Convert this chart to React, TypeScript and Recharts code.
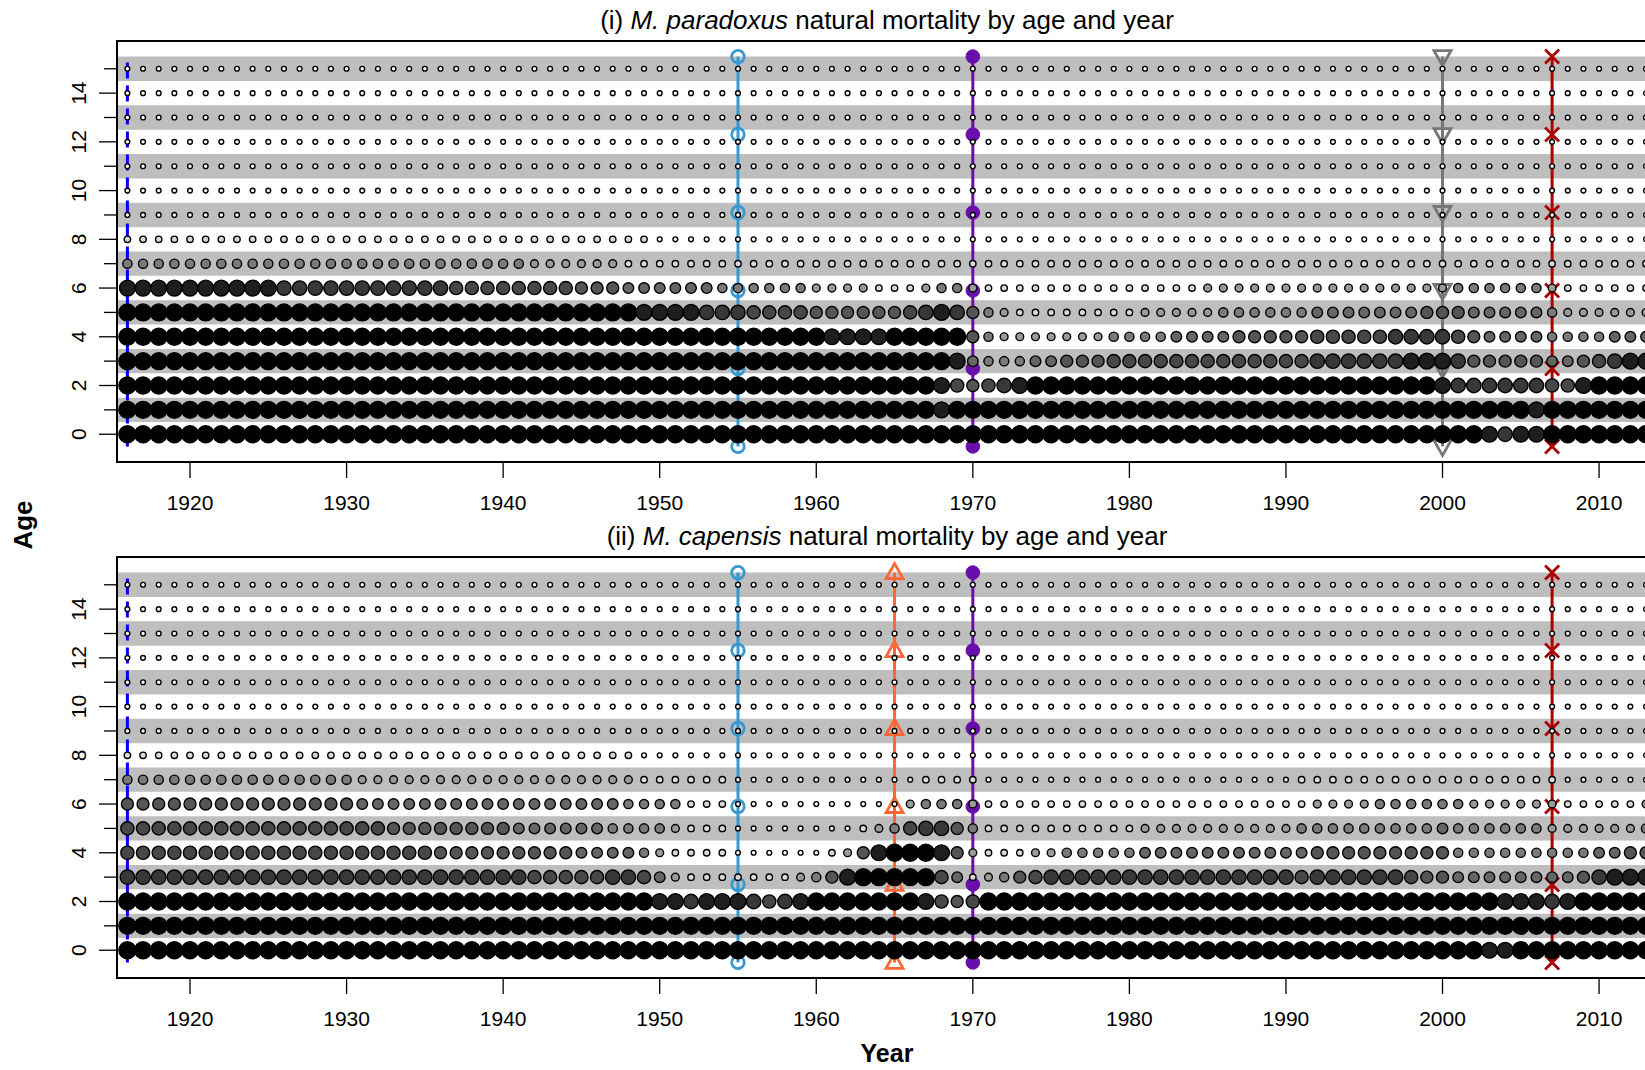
import React from 'react';
import { ScatterChart, Scatter, XAxis, YAxis, ReferenceArea } from 'recharts';

const FONT = '"Liberation Sans", Arial, Helvetica, sans-serif';

// columns start in 1916, one per year
const FIRST_YEAR = 1916;
const YEAR_TICKS = [1920, 1930, 1940, 1950, 1960, 1970, 1980, 1990, 2000, 2010];
const AGE_TICKS = [0, 1, 2, 3, 4, 5, 6, 7, 8, 9, 10, 11, 12, 13, 14, 15];
const BAND_AGES = [1, 3, 5, 7, 9, 11, 13, 15];
const MARK_AGES = [-0.5, 2.7, 5.9, 9.1, 12.3, 15.5];

// mortality level per year (0 = lowest .. 9 = highest), grouped 1916-19, 1920s ... 2010-13
const TINY = '0000 0000000000 0000000000 0000000000 0000000000 0000000000 0000000000 0000000000 0000000000 0000000000 0000';

const paradoxusRows = [
  '9999 9999999999 9999999999 9999999999 9999999999 9999999999 9999999999 9999999999 9999999999 9998788999 9999',
  '9999 9999999999 9999999999 9999999999 9999999999 9999999989 9999999999 9999999999 9999999999 9999998999 9999',
  '9999 9999999999 9999999999 9999999999 9999999999 9999999986 5678999999 9999999999 9999999999 8777777668 9999',
  '9999 9999999999 9999999999 9999999999 9999999999 9999999998 4333445556 6666666666 6677777788 8755555445 6788',
  '9999 9999999999 9999999999 9999999999 9999999999 9888899999 5322222223 3334444555 5566666777 7654444333 3444',
  '9999 9999999999 9999999999 9999999998 8887776666 5555556787 5321111111 1222223333 3344444445 5544444322 2222',
  '8888 8888887777 7777777666 6666655544 4444333333 2222111233 2111111111 1111122222 2222222222 2333333211 1111',
  '3333 3333333333 3333333333 3322222211 1111111111 1111111111 1111111111 1111111111 1111111111 1111111111 1111',
  '1111 1111111111 1111111111 1111111111 0000000000 0000000000 0000000000 0000000000 0000000000 0000000000 0000',
  TINY, TINY, TINY, TINY, TINY, TINY, TINY,
];

const capensisRows = [
  '9999 9999999999 9999999999 9999999999 9999999999 9999999999 9999999999 9999999999 9999999999 9998899999 9999',
  '9999 9999999999 9999999999 9999999999 9999999999 9999999999 9999999999 9999999999 9999999999 9999999999 9999',
  '9999 9999999999 9999999999 9999999999 8878887678 9999999865 6999999999 9999999999 9999999999 9999888789 9999',
  '7777 7777777777 7777777777 7766666776 4211111112 3589999964 1235677777 7777777777 7677777765 5444444445 7888',
  '6666 6666666666 6666665555 5555544443 2111100000 0125899985 2111223333 3444444444 4455555555 5333333333 4455',
  '6666 6666666666 6665555555 5444444333 3211100000 0001236775 3111111111 1222222222 2333333333 4333333222 2223',
  '5555 5555555555 5444444444 4444444433 3311100000 0000002333 2111111111 1111111111 1122223333 3322222211 1112',
  '3333 3333333333 3222222222 2222222221 1111100000 0000000111 1000000000 0000000000 0111111111 1111111100 0000',
  '1111 1111111111 1111111111 1111111110 0000000000 0000000000 0000000000 0000000000 0000000000 0000000000 0000',
  TINY, TINY, TINY, TINY, TINY, TINY, TINY,
];

const paradoxusLines = [
  { year: 1916, kind: 'dash', color: '#0000FF' },
  { year: 1955, kind: 'ring', color: '#3598D4' },
  { year: 1970, kind: 'dot', color: '#6A0DAD' },
  { year: 2000, kind: 'down', color: '#777777' },
  { year: 2007, kind: 'cross', color: '#AA0000' },
];

const capensisLines = [
  { year: 1916, kind: 'dash', color: '#0000FF' },
  { year: 1955, kind: 'ring', color: '#3598D4' },
  { year: 1965, kind: 'up', color: '#FF6633' },
  { year: 1970, kind: 'dot', color: '#6A0DAD' },
  { year: 2007, kind: 'cross', color: '#AA0000' },
];

// bubble look per level
const LEVEL_R = [2.4, 3.2, 3.9, 4.6, 5.3, 6.0, 6.6, 7.2, 7.9, 8.5];
const LEVEL_FILL = ['#ffffff', '#d9d9d9', '#9a9a9a', '#7a7a7a', '#666666', '#555555', '#474747', '#383838', '#1e1e1e', '#000000'];

const XMIN = 1915.336;
const XMAX = 2013.7;
const YMIN = -1.14;
const YMAX = 16.14;

function buildPoints(rows: string[]) {
  const pts: { year: number; age: number; lvl: number }[] = [];
  rows.forEach((row, age) => {
    row.replace(/ /g, '').split('').forEach((c, i) => {
      pts.push({ year: FIRST_YEAR + i, age, lvl: Number(c) });
    });
  });
  return pts;
}

const Bubble = (p: any) => {
  const l = p.payload.lvl;
  return <circle cx={p.cx} cy={p.cy} r={LEVEL_R[l]} fill={LEVEL_FILL[l]} stroke="#000" strokeWidth={1.4} />;
};

function markerShape(kind: string, color: string) {
  return (p: any) => {
    const { cx, cy } = p;
    if (kind === 'ring') return <circle cx={cx} cy={cy} r={6.3} fill="none" stroke={color} strokeWidth={2.8} />;
    if (kind === 'dot') return <circle cx={cx} cy={cy} r={6.8} fill={color} stroke={color} strokeWidth={1} />;
    if (kind === 'down')
      return <path d={`M${cx - 8.5},${cy - 6} L${cx + 8.5},${cy - 6} L${cx},${cy + 9} Z`} fill="none" stroke={color} strokeWidth={2.8} />;
    if (kind === 'up')
      return <path d={`M${cx - 8.5},${cy + 6} L${cx + 8.5},${cy + 6} L${cx},${cy - 9} Z`} fill="none" stroke={color} strokeWidth={2.8} />;
    if (kind === 'cross')
      return (
        <g stroke={color} strokeWidth={2.8}>
          <line x1={cx - 7} y1={cy - 7} x2={cx + 7} y2={cy + 7} />
          <line x1={cx - 7} y1={cy + 7} x2={cx + 7} y2={cy - 7} />
        </g>
      );
    return <g />;
  };
}

const AgeTick = (p: any) => {
  const { x, y, payload } = p;
  const v = payload.value;
  const even = v % 2 === 0;
  const lx = x - 38;
  return (
    <g>
      <line x1={x - (even ? 18 : 13)} x2={x} y1={y} y2={y} stroke="#000" strokeWidth={1.3} />
      {even && (
        <text x={lx} y={y} transform={`rotate(-90 ${lx} ${y})`} textAnchor="middle" dominantBaseline="central"
          fontSize={21} fontFamily={FONT} fill="#000">{v}</text>
      )}
    </g>
  );
};

function Panel({ top, title, rows, lines }: { top: number; title: React.ReactNode; rows: string[]; lines: any[] }) {
  const pts = buildPoints(rows);
  return (
    <div style={{ position: 'absolute', left: 0, top, width: 1700, height: 516 }}>
      <ScatterChart width={1700} height={516} margin={{ top: 41, right: 43, bottom: 4, left: 57 }}>
        <XAxis type="number" dataKey="year" domain={[XMIN, XMAX]} ticks={YEAR_TICKS} allowDataOverflow interval={0}
          axisLine={false} tickSize={16} tickMargin={17} height={50}
          tickLine={{ stroke: '#000', strokeWidth: 1.3 }}
          tick={{ fill: '#000', fontSize: 21, fontFamily: FONT }} />
        <YAxis type="number" dataKey="age" domain={[YMIN, YMAX]} ticks={AGE_TICKS} allowDataOverflow interval={0}
          axisLine={false} tickLine={false} tickSize={0} tickMargin={0} width={60} tick={<AgeTick />} />
        {BAND_AGES.map((a) => (
          <ReferenceArea key={a} y1={a - 0.5} y2={a + 0.5} fill="#BEBEBE" fillOpacity={1} stroke="none" />
        ))}
        <ReferenceArea x1={XMIN} x2={XMAX} y1={YMIN} y2={YMAX} fill="none" stroke="#000" strokeWidth={2} />
        {lines.map((ln) => (
          <Scatter key={ln.year} data={MARK_AGES.map((a) => ({ year: ln.year, age: a }))} fill={ln.color}
            line={{ stroke: ln.color, strokeWidth: 3, strokeDasharray: ln.kind === 'dash' ? '16 7' : undefined }}
            shape={markerShape(ln.kind, ln.color)} isAnimationActive={false} />
        ))}
        <Scatter data={pts} shape={Bubble} isAnimationActive={false} />
      </ScatterChart>
      <div style={{ position: 'absolute', left: 887, top: 20, transform: 'translate(-50%, -50%)', whiteSpace: 'nowrap',
        fontFamily: FONT, fontSize: 26, lineHeight: 1, color: '#000' }}>{title}</div>
    </div>
  );
}

export default function App() {
  return (
    <div style={{ position: 'absolute', left: 0, top: 0, width: 1645, height: 1070, overflow: 'hidden', background: '#fff' }}>
      <Panel top={0} rows={paradoxusRows} lines={paradoxusLines}
        title={<span>(i) <i>M. paradoxus</i> natural mortality by age and year</span>} />
      <Panel top={516} rows={capensisRows} lines={capensisLines}
        title={<span>(ii) <i>M. capensis</i> natural mortality by age and year</span>} />
      <div style={{ position: 'absolute', left: 23, top: 525, transform: 'translate(-50%, -50%) rotate(-90deg)',
        fontFamily: FONT, fontSize: 26, fontWeight: 'bold', lineHeight: 1, whiteSpace: 'nowrap' }}>Age</div>
      <div style={{ position: 'absolute', left: 887, top: 1053, transform: 'translate(-50%, -50%)',
        fontFamily: FONT, fontSize: 25, fontWeight: 'bold', lineHeight: 1, whiteSpace: 'nowrap' }}>Year</div>
    </div>
  );
}
